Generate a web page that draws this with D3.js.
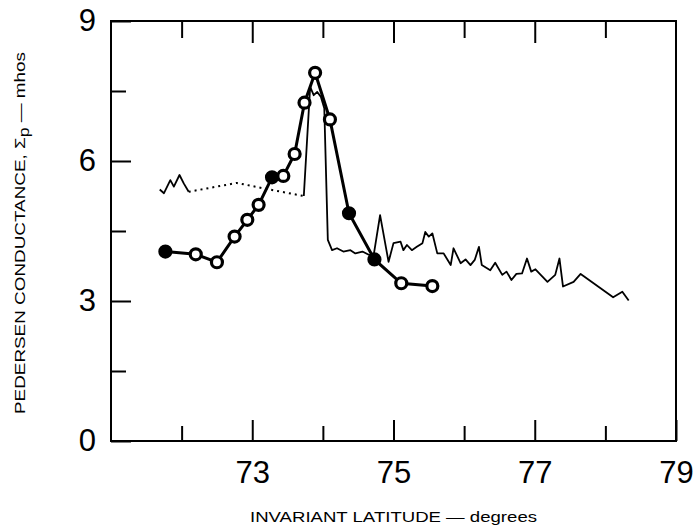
<!DOCTYPE html>
<html>
<head>
<meta charset="utf-8">
<script src="https://cdn.jsdelivr.net/npm/d3@7/dist/d3.min.js"></script>
<style>
  body { margin: 0; background: #fff; }
  .tick text { font-family: "Liberation Sans", Arial, sans-serif; }
</style>
</head>
<body>
<div id="chart"></div>
<script>
// circles joined by the heavy line
const circleLat   = [71.77, 72.20, 72.50, 72.75, 72.93, 73.09, 73.28, 73.44, 73.60, 73.74, 73.89, 74.10, 74.37, 74.73, 75.11, 75.55];
const circleSigma = [4.06, 4.00, 3.83, 4.38, 4.74, 5.06, 5.65, 5.68, 6.15, 7.25, 7.89, 6.89, 4.88, 3.89, 3.38, 3.32];
const solidCircles = [0, 6, 12, 13];

// thin trace, left jagged piece
const leftLat   = [71.69, 71.75, 71.84, 71.89, 71.97, 72.03, 72.10];
const leftSigma = [5.39, 5.31, 5.59, 5.45, 5.70, 5.52, 5.34];

// dotted gap in the trace
const gapLat   = [72.10, 72.78, 73.14, 73.73];
const gapSigma = [5.34, 5.53, 5.42, 5.25];

// thin trace, main piece
const traceLat = [73.73, 73.82, 73.87, 73.92, 73.97, 74.02, 74.07, 74.13, 74.20, 74.29, 74.39, 74.46, 74.56, 74.65, 74.72,
  74.81, 74.93, 75.00, 75.10, 75.14, 75.19, 75.26, 75.33, 75.41, 75.45, 75.50, 75.55, 75.62, 75.71, 75.81, 75.85,
  75.95, 76.02, 76.09, 76.15, 76.21, 76.25, 76.37, 76.44, 76.54, 76.60, 76.67, 76.74, 76.82, 76.89, 76.95, 77.01,
  77.18, 77.29, 77.35, 77.40, 77.55, 77.65, 78.11, 78.24, 78.33];
const traceSigma = [5.25, 7.59, 7.41, 7.48, 7.38, 7.13, 4.31, 4.09, 4.13, 4.06, 4.09, 4.02, 4.06, 3.99, 3.99,
  4.84, 3.84, 4.24, 4.27, 4.09, 4.20, 4.09, 4.16, 4.24, 4.48, 4.38, 4.45, 4.02, 4.02, 3.77, 4.13,
  3.81, 3.89, 3.77, 3.88, 4.16, 3.77, 3.66, 3.82, 3.56, 3.63, 3.45, 3.58, 3.59, 3.91, 3.63, 3.68,
  3.41, 3.56, 3.91, 3.31, 3.41, 3.58, 3.08, 3.20, 3.01];

const xMajorTicks = [73, 75, 77, 79];
const xMinorTicks = [72, 74, 76, 78];
const yMajorTicks = [0, 3, 6, 9];
const yMinorTicks = [1.5, 4.5, 7.5];

const margin = { top: 21, right: 17, bottom: 91, left: 111 },
      width = 693 - margin.left - margin.right,
      height = 532 - margin.top - margin.bottom;

const svg = d3.select("#chart").append("svg")
    .attr("width", 693)
    .attr("height", 532)
  .append("g")
    .attr("transform", "translate(" + margin.left + "," + margin.top + ")");

const x = d3.scaleLinear().domain([71, 79]).range([0, width]);
const y = d3.scaleLinear().domain([0, 9]).range([height, 0]);

function zip(a, b) { return a.map((v, i) => [v, b[i]]); }

// axes (ticks point inward)
function styleAxis(g) {
  g.select(".domain").remove();
  g.selectAll(".tick line").attr("stroke", "#000").attr("stroke-width", 2);
  g.selectAll(".tick text").attr("fill", "#000").style("font-size", "31px");
}

svg.append("g")
    .attr("transform", "translate(0," + height + ")")
    .call(d3.axisBottom(x).tickValues(xMajorTicks).tickSizeInner(-21).tickSizeOuter(0).tickPadding(20).tickFormat(d3.format("d")))
    .call(styleAxis);
svg.append("g")
    .attr("transform", "translate(0," + height + ")")
    .call(d3.axisBottom(x).tickValues(xMinorTicks).tickSizeInner(-15).tickSizeOuter(0).tickFormat(""))
    .call(styleAxis);
svg.append("g")
    .call(d3.axisTop(x).tickValues([73, 75, 77]).tickSizeInner(-22).tickSizeOuter(0).tickFormat(""))
    .call(styleAxis);
svg.append("g")
    .call(d3.axisTop(x).tickValues(xMinorTicks).tickSizeInner(-17).tickSizeOuter(0).tickFormat(""))
    .call(styleAxis);
svg.append("g")
    .call(d3.axisLeft(y).tickValues(yMajorTicks).tickSizeInner(-20).tickSizeOuter(0).tickPadding(15))
    .call(styleAxis);
svg.append("g")
    .call(d3.axisLeft(y).tickValues(yMinorTicks).tickSizeInner(-15).tickSizeOuter(0).tickFormat(""))
    .call(styleAxis);

svg.append("rect")
    .attr("width", width)
    .attr("height", height)
    .attr("fill", "none")
    .attr("stroke", "#000")
    .attr("stroke-width", 2);

const line = d3.line()
    .x(d => x(d[0]))
    .y(d => y(d[1]));

svg.append("path")
    .datum(zip(leftLat, leftSigma))
    .attr("d", line)
    .attr("fill", "none")
    .attr("stroke", "#000")
    .attr("stroke-width", 1.8)
    .attr("stroke-linejoin", "round");

svg.append("path")
    .datum(zip(gapLat, gapSigma))
    .attr("d", line)
    .attr("fill", "none")
    .attr("stroke", "#000")
    .attr("stroke-width", 2)
    .attr("stroke-dasharray", "2,4");

svg.append("path")
    .datum(zip(traceLat, traceSigma))
    .attr("d", line)
    .attr("fill", "none")
    .attr("stroke", "#000")
    .attr("stroke-width", 1.8)
    .attr("stroke-linejoin", "round");

const circleData = zip(circleLat, circleSigma);

svg.append("path")
    .datum(circleData)
    .attr("d", line)
    .attr("fill", "none")
    .attr("stroke", "#000")
    .attr("stroke-width", 3);

svg.selectAll(".dot")
  .data(circleData)
  .enter().append("circle")
    .attr("class", "dot")
    .attr("cx", d => x(d[0]))
    .attr("cy", d => y(d[1]))
    .attr("r", 5.5)
    .attr("fill", (d, i) => solidCircles.includes(i) ? "#000" : "#fff")
    .attr("stroke", "#000")
    .attr("stroke-width", 3.2);

// axis titles
svg.append("text")
    .attr("x", width / 2)
    .attr("y", height + 81)
    .attr("text-anchor", "middle")
    .attr("textLength", 287)
    .attr("lengthAdjust", "spacingAndGlyphs")
    .style("font", "15px 'Liberation Sans', Arial, sans-serif")
    .text("INVARIANT LATITUDE \u2014 degrees");

const yt = svg.append("text")
    .attr("transform", "translate(" + (-86) + "," + (height / 2 + 2) + ") rotate(-90)")
    .attr("text-anchor", "middle")
    .attr("textLength", 362)
    .attr("lengthAdjust", "spacingAndGlyphs")
    .style("font", "15px 'Liberation Sans', Arial, sans-serif");
yt.append("tspan").text("PEDERSEN CONDUCTANCE, \u03a3");
yt.append("tspan").attr("dy", 4).style("font-size", "14px").text("p");
yt.append("tspan").attr("dy", -4).text(" \u2014 mhos");
</script>
</body>
</html>
